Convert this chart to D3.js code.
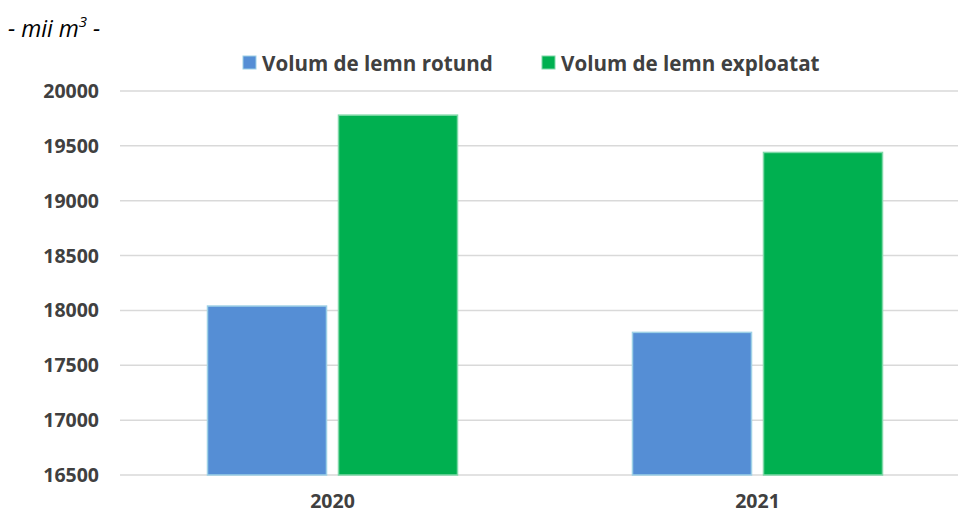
<!DOCTYPE html>
<html>
<head>
<meta charset="utf-8">
<script src="https://cdn.jsdelivr.net/npm/d3@7"></script>
<style>
  body { margin: 0; background: #fff; }
  text { font-family: "Open Sans", "Liberation Sans", sans-serif; }
</style>
</head>
<body>
<script>
const years = ["2020", "2021"];
const seriesNames = ["Volum de lemn rotund", "Volum de lemn exploatat"];
const rotund = [18040, 17800];
const exploatat = [19780, 19440];
const yTicks = [16500, 17000, 17500, 18000, 18500, 19000, 19500, 20000];

const colors = ["#558ed5", "#00b050"];
const strokes = ["#9dd0e6", "#7fd8a8"];

const width = 958, height = 514;
const plot = { left: 120, right: 970, top: 91, bottom: 475 };

const svg = d3.select("body").append("svg")
  .attr("width", width)
  .attr("height", height);

const x = d3.scaleBand().domain(years).range([plot.left, plot.right]);
const y = d3.scaleLinear().domain([16500, 20000]).range([plot.bottom, plot.top]);

// grid
svg.append("g")
  .selectAll("line")
  .data(yTicks)
  .join("line")
  .attr("x1", plot.left)
  .attr("x2", width)
  .attr("y1", d => y(d))
  .attr("y2", d => y(d))
  .attr("stroke", "#d9d9d9")
  .attr("stroke-width", 1.5);

// y labels
svg.append("g")
  .selectAll("text")
  .data(yTicks)
  .join("text")
  .attr("x", 99)
  .attr("y", d => y(d) + 7)
  .attr("text-anchor", "end")
  .attr("font-size", 19.5)
  .attr("font-weight", "bold")
  .attr("fill", "#404040")
  .text(d => d);

// bars
const barW = 119, gap = 12;
const series = [rotund, exploatat];
series.forEach((vals, si) => {
  svg.append("g")
    .selectAll("rect")
    .data(years)
    .join("rect")
    .attr("x", d => x(d) + x.bandwidth() / 2 - (barW + gap / 2) + si * (barW + gap))
    .attr("y", (d, i) => y(vals[i]))
    .attr("width", barW)
    .attr("height", (d, i) => y(16500) - y(vals[i]))
    .attr("fill", colors[si])
    .attr("stroke", strokes[si])
    .attr("stroke-width", 1.5);
});

// x labels
svg.append("g")
  .selectAll("text")
  .data(years)
  .join("text")
  .attr("x", d => x(d) + x.bandwidth() / 2)
  .attr("y", 508)
  .attr("text-anchor", "middle")
  .attr("font-size", 19.5)
  .attr("font-weight", "bold")
  .attr("fill", "#404040")
  .text(d => d);

// unit label
const unit = svg.append("text")
  .attr("x", 8)
  .attr("y", 37)
  .attr("font-size", 23)
  .attr("font-style", "italic")
  .attr("fill", "#000");
unit.append("tspan").text("- mii m");
unit.append("tspan").attr("dy", -10).attr("font-size", 15).text("3");
unit.append("tspan").attr("dy", 10).text(" -");

// legend
const legendX = [243, 542];
const legend = svg.append("g")
  .selectAll("g")
  .data(seriesNames)
  .join("g")
  .attr("transform", (d, i) => `translate(${legendX[i]},56)`);
legend.append("rect")
  .attr("width", 13)
  .attr("height", 13)
  .attr("fill", (d, i) => colors[i])
  .attr("stroke", (d, i) => strokes[i])
  .attr("stroke-width", 1);
legend.append("text")
  .attr("x", 19)
  .attr("y", 15)
  .attr("font-size", 20.6)
  .attr("font-weight", "bold")
  .attr("fill", "#404040")
  .text(d => d);
</script>
</body>
</html>
